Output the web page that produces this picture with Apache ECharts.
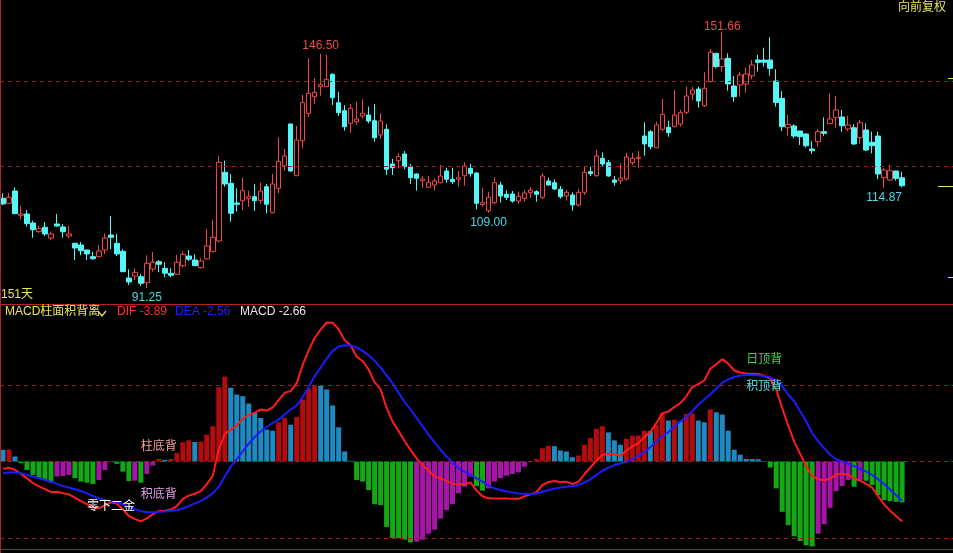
<!DOCTYPE html>
<html><head><meta charset="utf-8">
<script src="https://cdn.jsdelivr.net/npm/echarts@6/dist/echarts.min.js"></script>
<style>html,body{margin:0;padding:0;background:#000;overflow:hidden}#c{width:953px;height:553px}</style>
</head><body><div id="c"></div>
<script>
const openP = [112.41,111.23,114.13,108.40,108.71,106.58,104.53,105.57,103.04,106.35,
105.64,103.51,101.79,101.39,100.21,98.63,98.63,100.21,103.75,101.79,
99.90,93.60,94.07,93.91,92.49,95.73,97.45,95.89,94.71,94.48,
96.50,98.79,97.85,96.03,98.09,99.81,102.33,118.55,115.95,111.30,
111.84,112.32,112.79,111.84,115.15,109.01,114.77,120.10,129.95,117.74,
126.00,132.47,136.39,138.75,138.75,141.68,134.97,133.08,130.11,130.49,
131.83,132.07,130.72,127.35,128.70,120.51,121.28,122.87,119.87,118.15,
116.56,115.01,115.55,116.09,118.85,116.90,116.90,117.74,119.49,118.37,
110.93,109.48,111.37,115.55,113.36,113.43,111.77,112.41,113.73,113.97,
112.65,116.49,116.09,114.54,112.95,113.19,110.83,113.83,118.69,117.74,
121.85,120.81,116.73,116.56,116.97,120.81,121.85,127.11,128.13,124.35,
128.70,129.17,129.31,129.95,132.71,136.96,138.21,134.26,139.93,146.63,
143.47,145.45,138.91,139.15,139.39,141.34,145.05,145.05,145.05,140.09,
136.01,129.07,129.47,128.29,127.59,124.05,125.77,128.13,130.02,131.43,
131.60,128.77,129.07,126.71,128.53,125.63,127.11,117.27,116.73,118.85,
117.27];
const closeP = [111.07,112.65,108.78,108.71,106.42,105.00,105.24,103.99,103.99,105.87,
104.53,103.99,100.68,100.04,99.27,98.16,99.97,103.04,103.21,99.27,
95.09,92.66,94.85,92.35,97.07,97.31,96.84,94.71,94.24,97.31,
99.20,98.02,96.50,97.61,101.15,103.21,120.91,115.79,108.87,111.00,
114.20,112.79,111.84,114.13,111.00,115.79,121.14,122.39,118.85,126.17,
134.97,137.19,137.43,139.22,140.50,136.15,132.61,129.31,133.65,131.13,
132.47,130.65,126.71,130.65,119.26,119.63,122.23,119.87,117.27,117.13,
116.97,116.19,116.49,117.67,116.90,116.33,117.27,120.03,118.22,111.23,
111.37,112.65,116.09,112.95,112.65,111.77,112.88,113.66,114.37,113.36,
117.67,115.55,114.61,112.79,113.83,110.83,113.83,118.55,118.22,122.39,
120.51,117.67,116.19,117.20,122.16,121.85,122.09,125.23,124.59,129.71,
132.24,127.89,132.07,132.61,136.55,137.97,135.37,138.37,146.87,143.47,
145.29,139.39,136.39,141.51,141.75,143.87,144.51,144.51,143.09,135.02,
129.31,129.88,127.11,126.95,124.82,123.64,128.13,127.75,131.13,133.25,
129.54,129.71,125.23,130.25,123.81,124.82,118.15,119.09,118.92,117.13,
115.38];
const lowP = [110.83,111.07,108.70,107.46,105.71,103.11,104.29,103.51,102.57,105.71,
103.11,103.04,97.85,98.96,97.85,97.85,98.49,99.27,100.38,98.79,
95.00,91.95,93.13,91.71,91.25,95.09,94.95,93.77,93.77,94.31,
96.03,97.61,96.45,95.89,98.00,99.75,102.03,115.15,106.89,109.25,
109.65,110.43,109.41,111.07,108.87,108.95,113.59,118.92,118.69,117.70,
124.21,131.53,134.67,136.62,138.70,134.43,131.83,128.36,127.89,129.71,
131.29,130.11,125.77,126.41,117.91,117.91,119.49,119.26,115.79,114.20,
114.91,114.95,114.20,115.95,116.09,115.79,115.15,115.38,117.51,109.82,
110.43,109.00,111.07,111.37,112.01,111.37,111.07,111.54,112.48,111.61,
112.25,115.38,114.37,112.32,111.84,109.48,110.43,113.19,117.67,117.51,
119.87,117.51,115.38,115.79,116.61,120.27,119.63,122.46,123.98,124.21,
128.36,126.95,129.17,129.31,132.24,135.61,133.79,134.03,139.79,143.09,
142.29,137.80,135.21,136.39,137.33,140.50,142.29,143.47,141.34,134.03,
128.29,127.18,126.57,124.99,124.35,122.87,124.59,127.11,129.95,129.07,
128.13,128.29,124.99,125.23,123.57,123.03,116.90,114.87,116.56,116.56,
115.01];
const highP = [113.59,113.73,115.01,110.59,109.65,107.12,105.87,106.82,104.53,108.71,
106.35,105.87,101.93,102.10,100.21,99.81,101.39,104.15,108.23,103.99,
100.38,95.66,95.89,94.55,98.96,99.74,97.85,97.31,95.89,99.03,
99.81,100.21,99.20,98.25,105.17,107.29,122.39,121.28,118.15,114.77,
117.27,114.20,115.79,116.09,115.79,118.15,126.81,124.05,130.00,129.47,
136.79,145.45,140.73,146.50,146.30,141.91,137.57,134.43,134.67,135.21,
135.78,134.03,134.67,132.47,129.88,121.69,123.03,123.57,120.51,118.30,
117.67,117.67,117.13,120.27,119.63,119.63,118.85,120.91,120.51,118.60,
114.85,113.97,117.37,116.33,114.32,114.13,113.97,114.32,115.01,114.32,
118.30,117.27,116.90,115.31,114.37,113.83,114.61,119.87,119.87,123.81,
123.27,121.45,117.67,120.67,123.10,123.17,123.57,130.35,128.53,130.49,
135.85,130.72,137.97,133.25,138.75,138.75,138.75,142.15,147.65,146.70,
151.66,146.63,141.27,142.29,143.23,145.05,146.23,147.95,150.41,142.86,
137.73,132.07,129.88,128.29,127.75,125.93,128.77,131.53,137.19,136.55,
133.25,131.90,129.88,130.89,130.11,128.13,128.13,119.63,120.27,118.92,
118.69];
const macdBar = [0.77,0.78,0.33,-0.11,-0.55,-0.87,-1.09,-1.20,-1.38,-0.98,
-0.94,-0.87,-1.09,-1.31,-1.38,-1.46,-1.20,-0.55,-0.05,-0.15,
-0.66,-1.27,-1.25,-1.38,-0.81,-0.26,0.17,0.11,0.17,0.55,
1.25,1.38,1.27,1.30,1.75,2.30,4.85,5.53,4.81,4.37,
4.26,3.78,3.17,2.84,2.08,2.01,2.56,2.84,2.40,2.91,
4.04,4.75,4.96,4.94,4.70,3.65,2.23,0.66,0.04,-1.20,
-1.31,-1.86,-2.78,-2.84,-4.26,-4.98,-5.00,-5.09,-5.27,-5.22,
-5.09,-4.70,-4.44,-3.72,-3.17,-2.78,-2.08,-1.64,-0.98,-1.60,
-1.90,-1.75,-1.31,-1.09,-0.92,-0.81,-0.70,-0.33,-0.04,0.15,
0.87,1.03,1.00,0.72,0.66,0.28,0.39,1.09,1.53,2.14,
2.30,1.90,1.38,1.09,1.49,1.68,1.70,2.01,1.98,2.40,
3.17,2.67,2.73,2.62,3.10,3.13,2.67,2.56,3.39,3.21,
3.06,2.01,0.77,0.44,0.17,0.16,0.15,0.04,-0.39,-1.75,
-3.28,-4.15,-4.87,-5.18,-5.46,-5.53,-4.70,-4.09,-3.02,-1.93,
-1.60,-1.20,-1.64,-1.20,-1.25,-1.53,-2.19,-2.51,-2.58,-2.62,
-2.66];
const macdBarBefore = 0.90;
const difLine = [-0.48,-0.40,-0.54,-0.80,-1.10,-1.40,-1.62,-1.80,-2.00,-1.97,
-2.07,-2.14,-2.36,-2.58,-2.77,-2.98,-3.05,-2.85,-2.65,-2.75,
-3.11,-3.55,-3.74,-3.90,-3.71,-3.43,-3.22,-3.21,-3.13,-2.90,
-2.44,-2.22,-2.10,-1.93,-1.47,-0.93,0.79,1.79,2.08,2.34,
2.79,3.05,3.19,3.39,3.32,3.52,4.01,4.48,4.59,5.11,
6.30,7.25,8.05,8.60,9.06,9.04,8.62,7.91,7.58,6.83,
6.55,6.00,5.17,4.70,3.49,2.60,1.99,1.34,0.76,0.21,
-0.25,-0.60,-0.97,-1.09,-1.26,-1.46,-1.48,-1.48,-1.36,-1.89,
-2.26,-2.40,-2.41,-2.41,-2.41,-2.42,-2.43,-2.27,-2.14,-2.00,
-1.53,-1.34,-1.27,-1.34,-1.31,-1.46,-1.33,-0.83,-0.39,0.05,
0.42,0.50,0.48,0.38,0.70,0.99,1.18,1.59,1.93,2.50,
3.15,3.25,3.55,3.80,4.25,4.85,5.05,5.28,6.04,6.34,
6.67,6.38,5.93,5.80,5.74,5.72,5.70,5.59,5.40,4.70,
3.50,2.35,1.30,0.50,-0.30,-0.95,-1.15,-1.22,-1.12,-0.84,
-0.80,-0.85,-1.10,-1.25,-1.45,-1.70,-2.25,-2.80,-3.20,-3.55,
-3.89];
const deaLine = [-0.77,-0.72,-0.70,-0.77,-0.87,-0.98,-1.09,-1.20,-1.31,-1.46,
-1.60,-1.70,-1.81,-1.92,-2.08,-2.25,-2.40,-2.51,-2.58,-2.67,
-2.78,-2.95,-3.10,-3.23,-3.30,-3.30,-3.28,-3.26,-3.21,-3.17,
-3.06,-2.91,-2.73,-2.58,-2.34,-2.08,-1.64,-0.98,-0.33,0.15,
0.66,1.16,1.60,1.97,2.25,2.51,2.73,3.06,3.39,3.65,
4.20,4.85,5.57,6.12,6.71,7.21,7.50,7.58,7.56,7.43,
7.21,6.93,6.56,6.12,5.62,5.09,4.48,3.89,3.39,2.84,
2.30,1.75,1.25,0.77,0.33,-0.07,-0.44,-0.66,-0.87,-1.09,
-1.31,-1.57,-1.75,-1.86,-1.95,-2.01,-2.08,-2.10,-2.12,-2.08,
-1.97,-1.86,-1.77,-1.70,-1.64,-1.60,-1.53,-1.38,-1.16,-0.87,
-0.60,-0.40,-0.23,-0.13,-0.02,0.15,0.35,0.59,0.94,1.30,
1.64,1.92,2.27,2.62,2.89,3.28,3.70,4.04,4.37,4.74,
5.14,5.36,5.51,5.60,5.64,5.64,5.62,5.57,5.49,5.25,
4.92,4.37,3.93,3.28,2.62,1.86,1.31,0.87,0.44,0.15,
0.00,-0.15,-0.30,-0.47,-0.65,-0.87,-1.15,-1.47,-1.82,-2.20,
-2.56];
const priceLevels = [120, 140];
const macdLevels = [-5, 0, 5];
const extremeIdx = [24, 53, 81, 120, 147];
const extremeVal = [91.25, 146.50, 109.00, 151.66, 114.87];
const extremeKind = ['low', 'high', 'low', 'high', 'low'];
const axisMarks = [140.73, 93.77];
const annoText = ['柱底背', '积底背', '零下二金', '日顶背', '积顶背'];
const annoIdx = [26, 26, 18, 127, 127];
const annoVal = [0.94, -2.18, -2.95, 6.61, 4.85];
const annoColor = ['#f2a39a', '#e2a0e6', '#ffffff', '#3cdc3c', '#62d6e6'];

const days = openP.map((_, i) => 'D' + (i + 1));
const xCats = days.concat(['p1','p2','p3','p4','p5','p6','p7','p8']);
const candles = openP.map((o, i) => [o, closeP[i], lowP[i], highP[i]]);

const UP = '#f04848', DOWN = '#54f6f6';
const BAR_RED = '#b20c0c', BAR_BLUE = '#1f8ac2', BAR_GREEN = '#14a814', BAR_MAG = '#a614a8';
function barColor(i) {
  const v = macdBar[i], p = i > 0 ? macdBar[i - 1] : macdBarBefore;
  if (v >= 0) return v >= p ? BAR_RED : BAR_BLUE;
  return v <= p ? BAR_GREEN : BAR_MAG;
}
const FONT = '"Liberation Sans", Arial, "Noto Sans CJK SC", sans-serif';
const DASH = { color: '#9a2020', width: 1, type: [4, 4] };

const chart = echarts.init(document.getElementById('c'), null, { renderer: 'canvas' });
const option = {
  backgroundColor: '#000',
  animation: false,
  grid: [
    { left: 0, top: 0, width: 954, height: 303 },
    { left: 0, top: 305, width: 954, height: 244 }
  ],
  xAxis: [
    { type: 'category', gridIndex: 0, data: xCats, boundaryGap: true, show: false },
    { type: 'category', gridIndex: 1, data: xCats, boundaryGap: true, show: false }
  ],
  yAxis: [
    { type: 'value', gridIndex: 0, min: 87.70, max: 159.21, show: false, splitLine: { show: false } },
    { type: 'value', gridIndex: 1, min: -5.70, max: 10.20, show: false, splitLine: { show: false } }
  ],
  series: [
    {
      type: 'candlestick', xAxisIndex: 0, yAxisIndex: 0, data: candles, barWidth: 5,
      itemStyle: { color: '#000', color0: DOWN, borderColor: UP, borderColor0: DOWN, borderWidth: 1 },
      markLine: { silent: true, symbol: 'none', label: { show: false }, lineStyle: DASH,
        data: priceLevels.map(v => ({ yAxis: v })) },
      markPoint: {
        silent: true,
        data: extremeIdx.map((ix, k) => ({
          coord: [ix, extremeVal[k]], symbol: 'circle', symbolSize: 0,
          label: { show: true, formatter: extremeVal[k].toFixed(2),
            position: extremeKind[k] === 'high' ? 'top' : 'bottom',
            distance: extremeKind[k] === 'high' ? (extremeVal[k] > 150 ? -1 : 2) : 4,
            color: extremeKind[k] === 'high' ? '#ee4a4a' : '#4ad8e2', fontSize: 12, fontFamily: FONT }
        }))
      }
    },
    {
      type: 'bar', xAxisIndex: 1, yAxisIndex: 1, barWidth: 5,
      data: macdBar.map((v, i) => ({ value: v, itemStyle: { color: barColor(i) } })),
      markLine: { silent: true, symbol: 'none', label: { show: false }, lineStyle: DASH,
        data: macdLevels.map(v => ({ yAxis: v })) }
    },
    {
      type: 'line', xAxisIndex: 1, yAxisIndex: 1, data: difLine, showSymbol: false, symbol: 'none',
      lineStyle: { color: '#ff1c1c', width: 2 }, z: 3
    },
    {
      type: 'line', xAxisIndex: 1, yAxisIndex: 1, data: deaLine, showSymbol: false, symbol: 'none',
      lineStyle: { color: '#1c1cff', width: 2 }, z: 4,
      markPoint: {
        silent: true,
        data: annoText.map((t, k) => ({
          coord: [annoIdx[k], annoVal[k]], symbol: 'circle', symbolSize: 0,
          label: { show: true, formatter: t, position: 'inside', color: annoColor[k], fontSize: 12, fontFamily: FONT }
        }))
      }
    }
  ]
};
chart.setOption(option);

const lastClose = closeP[closeP.length - 1];
const yLast = Math.round(chart.convertToPixel({ yAxisIndex: 0 }, lastClose)) + 0.5;
const tickYs = axisMarks.map(v => Math.round(chart.convertToPixel({ yAxisIndex: 0 }, v)) + 0.5);
const FR = '#b02424', YEL = '#e8e45a';
const txt = (x, y, s, c) => ({ type: 'text', left: x, top: y, z: 100,
  style: { text: s, fill: c, font: '12px ' + FONT, textVerticalAlign: 'top' } });
const ln = (x1, y1, x2, y2, c) => ({ type: 'line', z: 90, shape: { x1, y1, x2, y2 }, style: { stroke: c, lineWidth: 1 } });
chart.setOption({
  graphic: [
    ln(0.5, 0, 0.5, 553, FR),
    ln(0, 304.5, 953, 304.5, FR),
    ln(0, 549.5, 953, 549.5, FR),
    ln(938, yLast, 953, yLast, YEL),
    ln(948, tickYs[0], 953, tickYs[0], YEL),
    ln(948, tickYs[1], 953, tickYs[1], YEL),
    txt(898, 2, '向前复权', YEL),
    txt(1, 289, '151天', YEL),
    txt(5, 306, 'MACD柱面积背离', YEL),
    { type: 'polyline', z: 100, shape: { points: [[98, 311], [102, 316], [106, 311]] }, style: { stroke: YEL, lineWidth: 1.3, fill: null } },
    txt(117, 306, 'DIF -3.89', '#ff3030'),
    txt(175, 306, 'DEA -2.56', '#2020ff'),
    txt(240, 306, 'MACD -2.66', '#e6e6e6')
  ]
});
</script>
</body></html>
